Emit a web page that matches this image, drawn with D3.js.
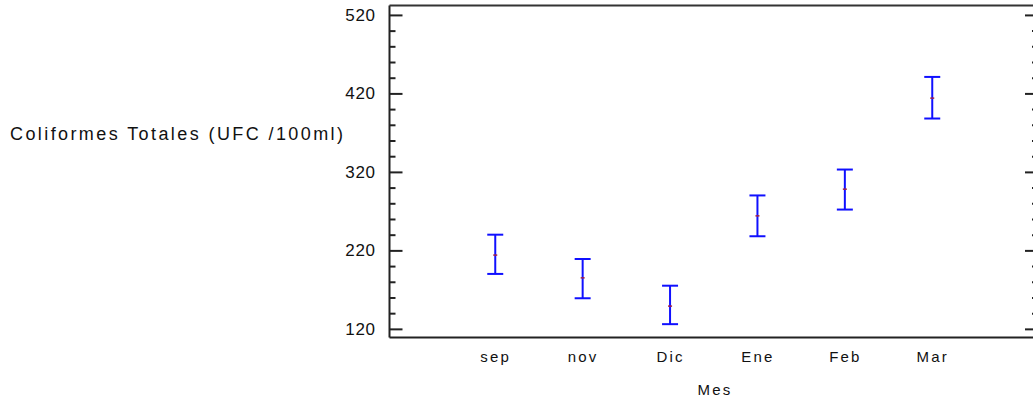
<!DOCTYPE html>
<html>
<head>
<meta charset="utf-8">
<script src="https://cdn.jsdelivr.net/npm/d3@7"></script>
<style>
  body { margin: 0; background: #fff; }
  text { font-family: "Liberation Sans", Arial, sans-serif; fill: #111; }
</style>
</head>
<body>
<svg width="1033" height="400"></svg>
<script>
// data
var months = ["sep", "nov", "Dic", "Ene", "Feb", "Mar"];
var means = [214, 185, 149, 264, 298, 414];
var lower = [190, 159, 126, 238, 272, 388];
var upper = [240, 209, 175, 290, 323, 441];
var majorTicks = [120, 220, 320, 420, 520];

var svg = d3.select("svg");

var plotLeft = 389.5, plotRight = 1038, plotTop = 5.5, plotBottom = 337.5;

var x = d3.scalePoint().domain(months).range([plotLeft, plotRight]).padding(1.21);
var y = d3.scaleLinear().domain([109, 532]).range([plotBottom, plotTop]);

var minorTicks = d3.range(120, 521, 20).filter(function(v) { return majorTicks.indexOf(v) < 0; });

// left axis, ticks pointing inward
var yAxis = svg.append("g")
  .attr("transform", "translate(" + plotLeft + ",0)")
  .call(d3.axisLeft(y).tickValues(majorTicks).tickSize(-13).tickPadding(14).tickFormat(d3.format("d")));
svg.append("g")
  .attr("transform", "translate(" + plotLeft + ",0)")
  .call(d3.axisLeft(y).tickValues(minorTicks).tickSize(-6).tickFormat(""));

// right axis
svg.append("g")
  .attr("transform", "translate(" + plotRight + ",0)")
  .call(d3.axisRight(y).tickValues(majorTicks).tickSize(-13).tickFormat(""));
svg.append("g")
  .attr("transform", "translate(" + plotRight + ",0)")
  .call(d3.axisRight(y).tickValues(minorTicks).tickSize(-6).tickFormat(""));

svg.selectAll(".domain").remove();
svg.selectAll(".tick line").attr("stroke", "#222").attr("stroke-width", 2);
yAxis.selectAll("text")
  .style("font-size", "17px")
  .style("letter-spacing", "0.6px");

// frame
svg.append("line").attr("x1", plotLeft).attr("x2", plotLeft).attr("y1", plotTop).attr("y2", plotBottom)
  .attr("stroke", "#222").attr("stroke-width", 2);
svg.append("line").attr("x1", plotLeft).attr("x2", plotRight).attr("y1", plotBottom).attr("y2", plotBottom)
  .attr("stroke", "#222").attr("stroke-width", 2);
svg.append("line").attr("x1", plotLeft).attr("x2", plotRight).attr("y1", plotTop).attr("y2", plotTop)
  .attr("stroke", "#333").attr("stroke-width", 2);

// x category labels
var xAxis = svg.append("g")
  .attr("transform", "translate(0," + plotBottom + ")")
  .call(d3.axisBottom(x).tickSize(0).tickPadding(14));
xAxis.select(".domain").remove();
xAxis.selectAll("text")
  .style("font-size", "15px")
  .style("letter-spacing", "2.2px");

// error bars
var bars = svg.selectAll(".bar")
  .data(months)
  .enter()
  .append("g")
  .attr("class", "bar");

bars.append("line")
  .attr("x1", function(d) { return x(d); })
  .attr("x2", function(d) { return x(d); })
  .attr("y1", function(d, i) { return y(upper[i]); })
  .attr("y2", function(d, i) { return y(lower[i]); })
  .attr("stroke", "#1010ff").attr("stroke-width", 2);
bars.append("line")
  .attr("x1", function(d) { return x(d) - 8; })
  .attr("x2", function(d) { return x(d) + 8; })
  .attr("y1", function(d, i) { return y(upper[i]); })
  .attr("y2", function(d, i) { return y(upper[i]); })
  .attr("stroke", "#1010ff").attr("stroke-width", 2);
bars.append("line")
  .attr("x1", function(d) { return x(d) - 8; })
  .attr("x2", function(d) { return x(d) + 8; })
  .attr("y1", function(d, i) { return y(lower[i]); })
  .attr("y2", function(d, i) { return y(lower[i]); })
  .attr("stroke", "#1010ff").attr("stroke-width", 2);
// mean mark
bars.append("line")
  .attr("x1", function(d) { return x(d) - 2; })
  .attr("x2", function(d) { return x(d) + 2; })
  .attr("y1", function(d, i) { return y(means[i]); })
  .attr("y2", function(d, i) { return y(means[i]); })
  .attr("stroke", "#a0204a").attr("stroke-width", 1.5);

// titles
svg.append("text")
  .attr("x", 10).attr("y", 140)
  .attr("textLength", 333)
  .attr("lengthAdjust", "spacing")
  .style("font-size", "18px")
  .text("Coliformes Totales (UFC /100ml)");

svg.append("text")
  .attr("x", 715).attr("y", 395)
  .attr("text-anchor", "middle")
  .style("font-size", "15px")
  .style("letter-spacing", "2.2px")
  .text("Mes");
</script>
</body>
</html>
